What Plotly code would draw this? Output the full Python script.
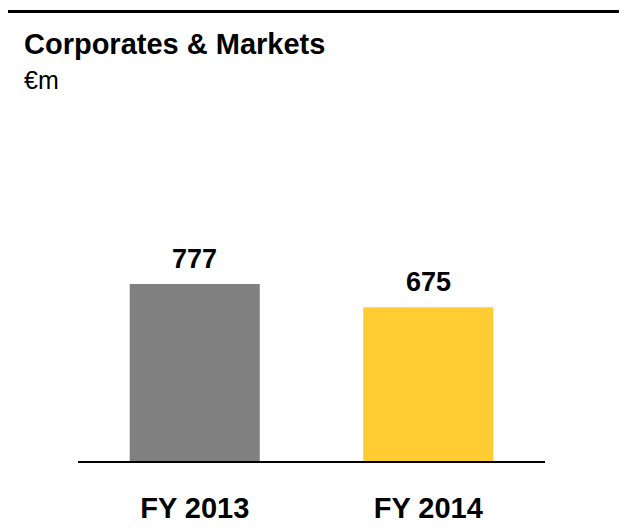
import plotly.graph_objects as go

categories = ["FY 2013", "FY 2014"]
values = [777, 675]
colors = ["#808080", "#FFCC33"]
title_text = "Corporates & Markets"
unit_text = "€m"

OFF = 8  # default page body margin
W, H = 627 - OFF, 530 - OFF
# plot area in page pixels: x 78..545, y 100..461
L = 78 - OFF
R = W - (545 - OFF)
T = 100 - OFF
B = H - (461 - OFF)
pw, ph = W - L - R, H - T - B

def px_x(x):
    return (x - OFF - L) / pw

def px_y(y):
    return (H - B - (y - OFF)) / ph

FONT = "Liberation Sans, Arial, sans-serif"

fig = go.Figure(go.Bar(
    x=categories, y=values, marker_color=colors, width=0.557,
    marker_line_width=0, hoverinfo="skip",
))

for c, v in zip(categories, values):
    fig.add_annotation(x=c, y=v, text=f"<b>{v}</b>", showarrow=False,
                       yanchor="bottom", yshift=8,
                       font=dict(family=FONT, size=27, color="black"))

fig.add_annotation(xref="paper", yref="paper", x=px_x(22), y=px_y(44),
                   xanchor="left", yanchor="middle", showarrow=False,
                   text=f"<b>{title_text}</b>",
                   font=dict(family=FONT, size=29, color="black"))
fig.add_annotation(xref="paper", yref="paper", x=px_x(22), y=px_y(80),
                   xanchor="left", yanchor="middle", showarrow=False,
                   text=unit_text,
                   font=dict(family=FONT, size=25, color="black"))

fig.add_shape(type="line", xref="paper", yref="paper",
              x0=px_x(7), x1=px_x(640), y0=px_y(11.5), y1=px_y(11.5),
              line=dict(color="black", width=3))

fig.update_layout(
    width=W, height=H,
    margin=dict(l=L, r=R, t=T, b=B, pad=0, autoexpand=False),
    plot_bgcolor="white", paper_bgcolor="white",
    showlegend=False,
    xaxis=dict(showline=True, linecolor="black", linewidth=2,
               showgrid=False, zeroline=False, ticks="",
               automargin=False,
               tickfont=dict(family=FONT, size=29, color="black"),
               tickprefix="<b>", ticksuffix="</b>",
               ticklabelstandoff=20, range=[-0.5, 1.5], fixedrange=True),
    yaxis=dict(visible=False, range=[0, 1585], showgrid=False,
               automargin=False,
               zeroline=False, fixedrange=True),
)

fig.write_html("out.html")
